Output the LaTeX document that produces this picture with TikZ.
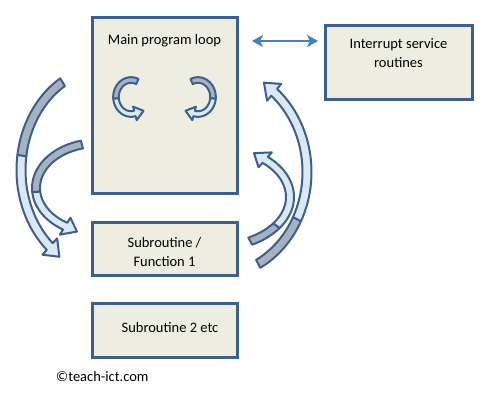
\documentclass[tikz,border=0pt]{standalone}
\usepackage{fontspec}
\setmainfont{Carlito}
\usetikzlibrary{arrows.meta, calc}

\definecolor{boxfill}{RGB}{237,238,225}
\definecolor{boxline}{RGB}{63,95,139}
\definecolor{backgray}{RGB}{167,178,193}
\definecolor{frontblue}{RGB}{219,232,245}
\definecolor{linkblue}{RGB}{74,126,187}

\tikzset{
  box/.style={draw=boxline, line width=3pt, fill=boxfill, minimum width=145, inner sep=0pt, outer sep=0pt},
  lbl/.style={font=\fontsize{14.5}{19.5}\selectfont, align=center, inner sep=0pt},
  bandline/.style={draw=boxline, line width=2pt, line join=round},
  link/.style={draw=linkblue, line width=2.5pt, {Stealth[length=11pt, width=12pt, inset=3pt]}-{Stealth[length=11pt, width=12pt, inset=3pt]}}
}

\begin{document}
\begin{tikzpicture}[x=1pt, y=-1pt]
        \useasboundingbox (0,0) rectangle (493,405);

        \node[box, minimum height=176, label={[lbl, anchor=base, yshift=-27pt]north:Main program loop}] (main) at (164.5,105) {};
        \node[box, minimum width=147, minimum height=74, label={[lbl, yshift=8.7pt]center:Interrupt service\\routines}] (isr) at (398.5,62) {};
        \node[box, minimum height=53, label={[lbl, yshift=-3.5pt]center:Subroutine /\\Function 1}] (sub1) at (164.5,248.5) {};
        \node[box, minimum height=54, label={[lbl, xshift=5.5pt, yshift=2pt]center:Subroutine 2 etc}] (sub2) at (164.5,330) {};
        \node[lbl, anchor=base west] (copyr) at (56,381.7) {\textcopyright teach-ict.com};

        \draw[link] ($(main.north east)+(15,24)$) -- ($(isr.north west)+(-7,16)$);

        \foreach \cx/\cy/\rx/\ry/\sa/\ma/\ea/\w/\h/\len in {108/170/87/103/-121.5/-172/-228/4.5/11/14, 98/188/62/45/-105/-185/-238/4/10/13, 215/172/92/104/62/27/-50/4.5/11/14, 215/197/75/50/62/35/-48/4/10/13, 131/97/15/17/-65/-185/-285/2.8/7/9, 198/97/15/17/-115/5/105/2.8/7/9} {
            \pgfmathsetmacro\dir{sign(\ea-\ma)}
            \pgfmathsetmacro\tx{-\rx*sin(\ea)*\dir}
            \pgfmathsetmacro\ty{\ry*cos(\ea)*\dir}
            \pgfmathsetmacro\tl{veclen(\tx,\ty)}
            \draw[bandline, fill=backgray] plot[domain=\sa:\ma, samples=30] ({\cx+(\rx+\w)*cos(\x)},{\cy+(\ry+\w)*sin(\x)})
                -- plot[domain=\ma:\sa, samples=30] ({\cx+(\rx-\w)*cos(\x)},{\cy+(\ry-\w)*sin(\x)}) -- cycle;
            \draw[bandline, fill=frontblue] plot[domain=\ma:\ea, samples=30] ({\cx+(\rx+\w)*cos(\x)},{\cy+(\ry+\w)*sin(\x)})
                -- ({\cx+(\rx+\h)*cos(\ea)},{\cy+(\ry+\h)*sin(\ea)})
                -- ({\cx+\rx*cos(\ea)+\len*\tx/\tl},{\cy+\ry*sin(\ea)+\len*\ty/\tl})
                -- ({\cx+(\rx-\h)*cos(\ea)},{\cy+(\ry-\h)*sin(\ea)})
                -- plot[domain=\ea:\ma, samples=30] ({\cx+(\rx-\w)*cos(\x)},{\cy+(\ry-\w)*sin(\x)}) -- cycle;
        }

    \end{tikzpicture}
\end{document}
